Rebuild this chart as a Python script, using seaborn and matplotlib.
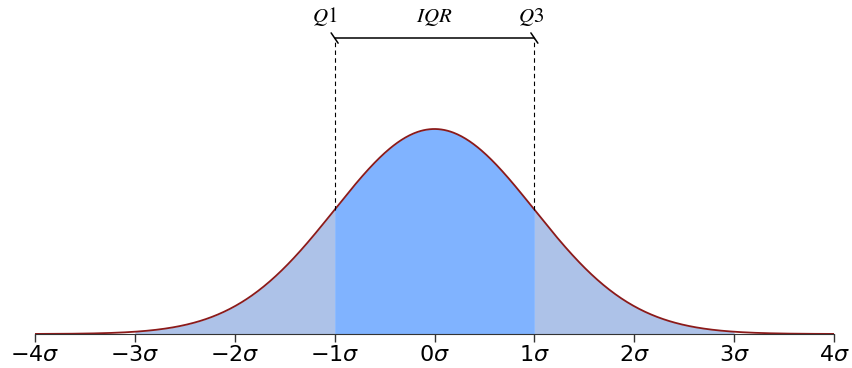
import numpy as np
import pandas as pd
import matplotlib
matplotlib.use("Agg")
import matplotlib.pyplot as plt
import seaborn as sns

# standard normal curve, in units of sigma
sigma_ticks = [-4, -3, -2, -1, 0, 1, 2, 3, 4]
tick_labels = [r"$-4\sigma$", r"$-3\sigma$", r"$-2\sigma$", r"$-1\sigma$", r"$0\sigma$",
               r"$1\sigma$", r"$2\sigma$", r"$3\sigma$", r"$4\sigma$"]
q1, q3 = -1.0, 1.0
tail_lo, tail_hi = -3.0, 3.0
bracket_labels = [r"$Q1$", r"$IQR$", r"$Q3$"]

x = np.linspace(-4, 4, 801)
density = np.exp(-x ** 2 / 2) / np.sqrt(2 * np.pi)
df = pd.DataFrame({"x": x, "density": density})

sns.set_style("white")
fig = plt.figure(figsize=(8.52, 3.68), dpi=100)
ax = fig.add_axes([35 / 852, 34 / 368, 799 / 852, 334 / 368])

mid = (df.x >= q1) & (df.x <= q3)
ax.fill_between(df.x, 0, df.density, where=(df.x >= tail_lo) & (df.x <= q1),
                color="#adc2e8", lw=0)
ax.fill_between(df.x, 0, df.density, where=(df.x >= q3) & (df.x <= tail_hi),
                color="#adc2e8", lw=0)
ax.fill_between(df.x, 0, df.density, where=mid, color="#80b3ff", lw=0)
sns.lineplot(data=df, x="x", y="density", color="#8b1a1a", lw=1.3, ax=ax)

# quartile markers and IQR bracket
bracket_y = 0.576
pdf_q = np.exp(-q1 ** 2 / 2) / np.sqrt(2 * np.pi)
for q in (q1, q3):
    ax.plot([q, q], [pdf_q, bracket_y], ls=(0, (4, 3)), color="black", lw=0.8)
    ax.plot([q - 0.035, q + 0.035], [bracket_y + 0.01, bracket_y - 0.01], color="black", lw=1.1)
ax.plot([q1, q3], [bracket_y, bracket_y], color="black", lw=1.1)
for xpos, lab in zip([q1 - 0.1, 0, q3 - 0.03], bracket_labels):
    ax.text(xpos, 0.596, lab, ha="center", va="bottom", fontsize=15,
            color="black", math_fontfamily="stix")

ax.set_xlim(-4, 4)
ax.set_ylim(0, 0.65)
ax.set_xticks(sigma_ticks)
ax.set_xticklabels(tick_labels, fontsize=16, color="black")
ax.set_yticks([])
ax.set_xlabel("")
ax.set_ylabel("")
for side in ("top", "left", "right"):
    ax.spines[side].set_visible(False)
ax.spines["bottom"].set_color("#333333")
ax.tick_params(axis="x", bottom=True, direction="out", length=6, width=1, color="#333333", pad=2)

fig.savefig("out.png", dpi=100)
